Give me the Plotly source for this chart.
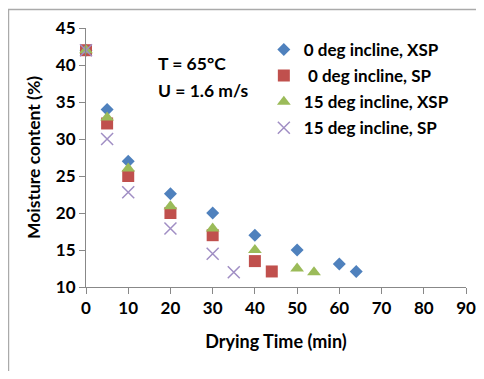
import plotly.graph_objects as go

# Data
x_0xsp = [0, 5, 10, 20, 30, 40, 50, 60, 64]
y_0xsp = [42, 34, 27, 22.6, 20, 17, 15, 13.1, 12.1]
x_0sp = [0, 5, 10, 20, 30, 40, 44]
y_0sp = [42, 32.1, 25, 20, 17, 13.5, 12.1]
x_15xsp = [0, 5, 10, 20, 30, 40, 50, 54]
y_15xsp = [42, 32.9, 26, 20.9, 17.9, 15, 12.5, 12]
x_15sp = [0, 5, 10, 20, 30, 35]
y_15sp = [42, 30, 22.8, 17.9, 14.5, 12]

names = ["0 deg incline, XSP", " 0 deg incline, SP", "15 deg incline, XSP", "15 deg incline, SP"]
x_ticks = list(range(0, 91, 10))
y_ticks = list(range(10, 46, 5))

FONT = "Lato"

fig = go.Figure()
fig.add_trace(go.Scatter(x=x_0xsp, y=y_0xsp, mode="markers", name=names[0], legendgroup="a",
                         marker=dict(symbol="diamond", size=10, color="#4F81BD"), cliponaxis=False))
fig.add_trace(go.Scatter(x=x_0sp, y=y_0sp, mode="markers", name=names[1], legendgroup="b",
                         marker=dict(symbol="square", size=12, color="#C0504D"), cliponaxis=False))
fig.add_trace(go.Scatter(x=x_15xsp, y=y_15xsp, mode="markers", name=names[2], legendgroup="c",
                         marker=dict(symbol="triangle-up", size=12, color="#9BBB59"), cliponaxis=False))
fig.add_trace(go.Scatter(x=x_15sp, y=y_15sp, mode="markers", name=names[3], legendgroup="d",
                         marker=dict(symbol="x-thin", size=12, color="#A08EC4",
                                     line=dict(width=1.5, color="#A08EC4")), cliponaxis=False))

fig.update_layout(
    width=468, height=363,
    margin=dict(l=78, r=10, t=20, b=84, autoexpand=False),
    plot_bgcolor="white", paper_bgcolor="white",
    font=dict(family=FONT, size=17, color="black"),
    xaxis=dict(range=[0, 90], tickvals=x_ticks, showgrid=False, zeroline=False,
               showline=True, linecolor="#888888", linewidth=1,
               ticks="outside", ticklen=6, tickcolor="#888888",
               tickfont=dict(family=FONT, size=17, color="black", weight="bold"),
               title=dict(text="Drying Time (min)", font=dict(family=FONT, size=18, weight="bold"), standoff=17)),
    yaxis=dict(range=[10, 45], tickvals=y_ticks, showgrid=False, zeroline=False,
               showline=True, linecolor="#888888", linewidth=1,
               ticks="outside", ticklen=6, tickcolor="#888888",
               tickfont=dict(family=FONT, size=17, color="black", weight="bold"),
               title=dict(text="Moisture content (%)", font=dict(family=FONT, size=17.5, weight="bold"), standoff=10)),
    legend=dict(x=0.468, y=0.985, xanchor="left", yanchor="top", bgcolor="rgba(0,0,0,0)",
                font=dict(family=FONT, size=17, color="black", weight="bold"),
                itemwidth=30, tracegroupgap=1),
    showlegend=True,
    annotations=[
        dict(text="T = 65°C", x=0.184, y=0.863, xref="paper", yref="paper", xanchor="left", yanchor="middle",
             showarrow=False, font=dict(family=FONT, size=17.5, weight="bold")),
        dict(text="U = 1.6 m/s", x=0.184, y=0.759, xref="paper", yref="paper", xanchor="left", yanchor="middle",
             showarrow=False, font=dict(family=FONT, size=17.5, weight="bold")),
    ],
    shapes=[dict(type="rect", xref="paper", yref="paper", x0=-0.204, x1=1.2, y0=-0.6, y1=1.0714,
                 line=dict(color="#aaaaaa", width=1.5), fillcolor="rgba(0,0,0,0)", layer="below")],
)

fig.write_html("out.html")
